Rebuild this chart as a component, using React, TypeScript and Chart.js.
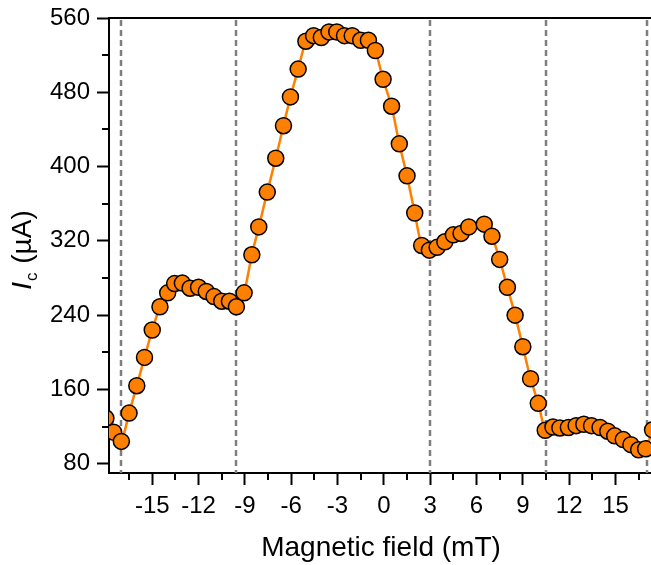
import React, { useEffect, useRef } from "react";
import { Chart, registerables } from "chart.js";

Chart.register(...registerables);

const fieldValues = [
  -18, -17.5, -17, -16.5, -16, -15.5, -15, -14.5, -14, -13.55, -13.05, -12.55, -12, -11.5, -11,
  -10.5, -10, -9.55, -9.05, -8.55, -8.1, -7.55, -7, -6.5, -6.05, -5.55, -5.05, -4.55, -4.05,
  -3.55, -3.05, -2.55, -2.05, -1.5, -1, -0.55, -0.05, 0.5, 1, 1.5, 2, 2.45, 2.95, 3.45, 3.95,
  4.5, 5, 5.5, 6.5, 7, 7.5, 8, 8.5, 9, 9.5, 10, 10.45, 10.95, 11.4, 11.95, 12.45, 12.95, 13.45,
  14, 14.5, 14.95, 15.5, 16, 16.5, 16.95, 17.4,
];
const icValues = [
  129, 114, 104, 134.5, 164, 194.5, 224, 249, 264, 274, 274.5, 269, 270, 265.5, 260,
  255, 255, 249, 264, 305, 335, 372.5, 409, 444, 475, 505, 535, 541, 539,
  545, 545, 541, 541, 536, 536, 525, 494, 465, 424.5, 390, 350, 315, 310, 313, 319,
  326.5, 328, 335, 338, 325, 300, 270, 240, 206, 171.5, 145, 116, 119.5, 118.5, 119, 121, 122.5, 121,
  119, 115, 110, 106, 100.5, 95, 96, 116.5,
];
const xTickValues = [-15, -12, -9, -6, -3, 0, 3, 6, 9, 12, 15];
const xMinorTicks = [-16.5, -13.5, -10.5, -7.5, -4.5, -1.5, 1.5, 4.5, 7.5, 10.5, 13.5, 16.5];
const yTickValues = [80, 160, 240, 320, 400, 480, 560];
const yMinorTicks = [120, 200, 280, 360, 440, 520];
const dashedLineFields = [-17.05, -9.55, 3, 10.5, 17.05];

const FONT = "'Liberation Sans', Arial, sans-serif";

const overlayPlugin = {
  id: "overlay",
  beforeDatasetsDraw(chart: any) {
    const { ctx, chartArea, scales } = chart;
    const xs = scales.x;
    ctx.save();
    ctx.strokeStyle = "#7f7f7f";
    ctx.lineWidth = 2.5;
    ctx.setLineDash([6, 4]);
    for (const v of dashedLineFields) {
      const px = Math.round(xs.getPixelForValue(v));
      ctx.beginPath();
      ctx.moveTo(px, chartArea.top + 2);
      ctx.lineTo(px, chartArea.bottom);
      ctx.stroke();
    }
    ctx.restore();
  },
  afterDraw(chart: any) {
    const { ctx, chartArea, scales } = chart;
    const xs = scales.x;
    const ys = scales.y;
    ctx.save();
    ctx.strokeStyle = "#000";
    ctx.lineWidth = 2;
    ctx.beginPath();
    ctx.moveTo(chartArea.left - 1, chartArea.top);
    ctx.lineTo(chart.width, chartArea.top);
    ctx.stroke();
    for (const v of xMinorTicks) {
      const px = Math.round(xs.getPixelForValue(v));
      ctx.beginPath();
      ctx.moveTo(px, chartArea.bottom);
      ctx.lineTo(px, chartArea.bottom + 7);
      ctx.stroke();
    }
    for (const v of yMinorTicks) {
      const py = Math.round(ys.getPixelForValue(v));
      ctx.beginPath();
      ctx.moveTo(chartArea.left, py);
      ctx.lineTo(chartArea.left - 7, py);
      ctx.stroke();
    }
    ctx.fillStyle = "#000";
    ctx.font = `28px ${FONT}`;
    ctx.textAlign = "center";
    ctx.textBaseline = "alphabetic";
    ctx.fillText("Magnetic field (mT)", 381, 556);
    const mainFont = `28px ${FONT}`;
    const italicFont = `italic 28px ${FONT}`;
    const subFont = `17px ${FONT}`;
    ctx.font = italicFont;
    const wI = ctx.measureText("I").width;
    ctx.font = subFont;
    const wc = ctx.measureText("c").width;
    ctx.font = mainFont;
    const wRest = ctx.measureText(" (\u00B5A)").width;
    const total = wI + wc + 2 + wRest;
    ctx.translate(31, 250);
    ctx.rotate(-Math.PI / 2);
    ctx.textAlign = "left";
    let x = -total / 2;
    ctx.font = italicFont;
    ctx.fillText("I", x, 0);
    x += wI + 1;
    ctx.font = subFont;
    ctx.fillText("c", x, 6);
    x += wc + 1;
    ctx.font = mainFont;
    ctx.fillText(" (\u00B5A)", x, 0);
    ctx.restore();
  },
};

export default function App() {
  const canvasRef = useRef<HTMLCanvasElement | null>(null);

  useEffect(() => {
    if (!canvasRef.current) return;
    const chart = new Chart(canvasRef.current, {
      type: "line",
      data: {
        datasets: [
          {
            data: fieldValues.map((f, i) => ({ x: f, y: icValues[i] })),
            borderColor: "#ff8000",
            borderWidth: 2.5,
            backgroundColor: "#ff8000",
            pointBackgroundColor: "#ff8000",
            pointBorderColor: "#000",
            pointBorderWidth: 1.5,
            pointRadius: 8,
            tension: 0.2,
          },
        ],
      },
      options: {
        animation: false,
        responsive: false,
        maintainAspectRatio: false,
        layout: { autoPadding: false, padding: { top: 18, right: 0, left: 0, bottom: 0 } },
        plugins: { legend: { display: false }, tooltip: { enabled: false } },
        scales: {
          x: {
            type: "linear",
            min: -17.8,
            max: 17.3,
            afterBuildTicks: (scale: any) => {
              scale.ticks = xTickValues.map((v) => ({ value: v }));
            },
            afterFit: (scale: any) => {
              scale.height = 92;
              scale.paddingLeft = 0;
              scale.paddingRight = 0;
              scale.paddingTop = 0;
              scale.paddingBottom = 0;
            },
            grid: {
              display: true,
              drawOnChartArea: false,
              drawTicks: true,
              tickLength: 12,
              tickWidth: 2,
              tickColor: "#000",
            },
            border: { display: true, color: "#000", width: 2 },
            ticks: {
              color: "#000",
              font: { family: FONT, size: 24 },
              padding: 7,
              maxRotation: 0,
              autoSkip: false,
            },
          },
          y: {
            type: "linear",
            min: 70,
            max: 560,
            afterBuildTicks: (scale: any) => {
              scale.ticks = yTickValues.map((v) => ({ value: v }));
            },
            afterFit: (scale: any) => {
              scale.width = 109;
              scale.paddingLeft = 0;
              scale.paddingRight = 0;
              scale.paddingTop = 0;
              scale.paddingBottom = 0;
            },
            grid: {
              display: true,
              drawOnChartArea: false,
              drawTicks: true,
              tickLength: 12,
              tickWidth: 2,
              tickColor: "#000",
            },
            border: { display: true, color: "#000", width: 2 },
            ticks: {
              color: "#000",
              font: { family: FONT, size: 24 },
              padding: 7,
              autoSkip: false,
            },
          },
        },
      },
      plugins: [overlayPlugin],
    } as any);
    return () => chart.destroy();
  }, []);

  return (
    <div style={{ position: "absolute", left: 0, top: 0, width: 651, height: 565, background: "#fff" }}>
      <canvas ref={canvasRef} width={651} height={565} style={{ display: "block" }} />
    </div>
  );
}
